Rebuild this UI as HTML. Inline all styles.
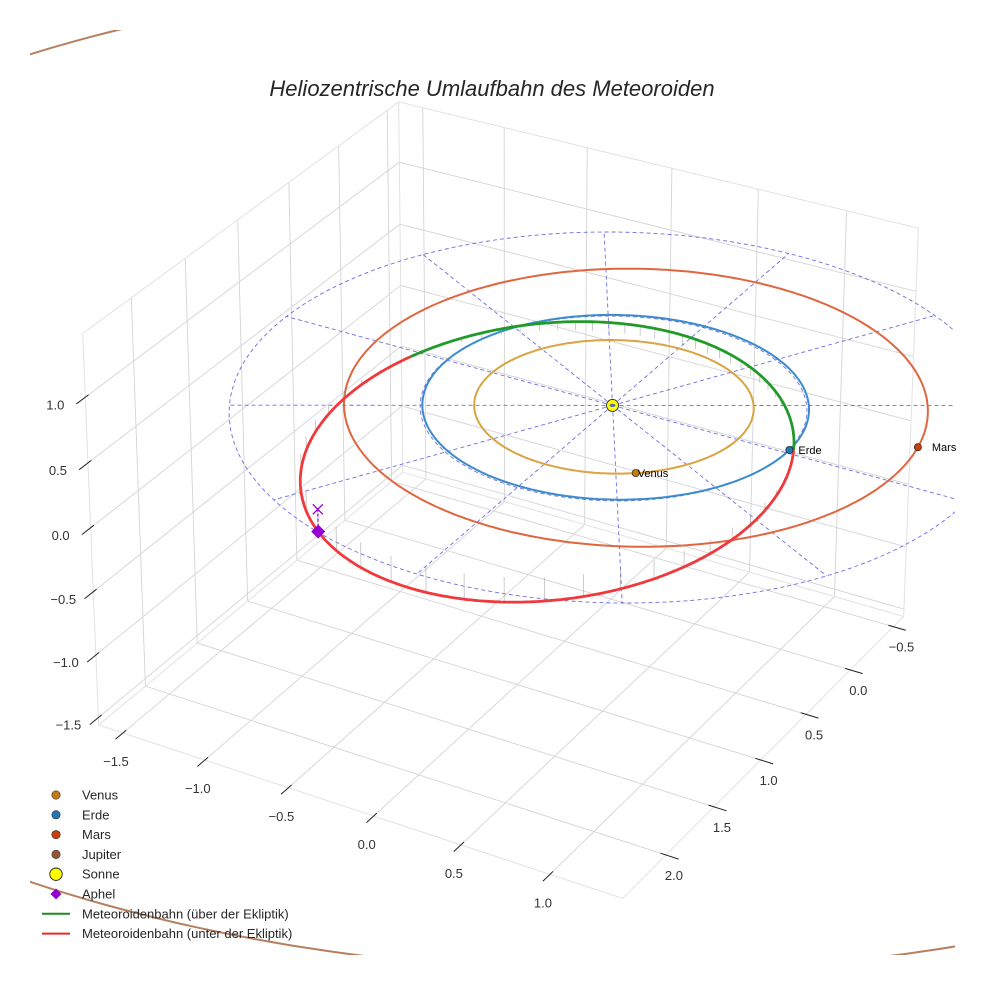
<!DOCTYPE html>
<html><head><meta charset="utf-8">
<style>
html,body{margin:0;padding:0;background:#fff;}
svg{display:block;font-family:"Liberation Sans",sans-serif;}
</style></head>
<body>
<svg id="chart" width="984" height="984" viewBox="0 0 984 984" xmlns="http://www.w3.org/2000/svg">
  <defs><clipPath id="axclip"><rect x="30" y="30" width="925" height="925"/></clipPath></defs>
  <rect x="0" y="0" width="984" height="984" fill="#fff"/>
  <g id="panes"></g>
  <g id="ticks"></g>
  <g id="data" clip-path="url(#axclip)"></g>
  <g id="labels"></g>
  <text x="492" y="96" text-anchor="middle" font-size="22" font-style="italic" fill="#262626">Heliozentrische Umlaufbahn des Meteoroiden</text>
  <g id="legend"></g>
</svg>
<script>
// ---- data ----
const xTicks = [-1.5, -1.0, -0.5, 0.0, 0.5, 1.0];
const yTicks = [-0.5, 0.0, 0.5, 1.0, 1.5, 2.0];
const zTicks = [-1.5, -1.0, -0.5, 0.0, 0.5, 1.0];
const planetNames = ["Venus", "Erde", "Mars", "Jupiter"];
const planetA = [0.723, 1.0, 1.51, 5.3];
const planetE = [0.0068, 0.0167, 0.08, 0.0489];
const planetPeri = [131, 103, 126, 14];
const planetAngle = [52, -2, -14, 200];
const planetVisible = [true, true, true, false];
const eclipticRadii = [1.0, 2.0];
const eclipticSpokes = [0, 30, 60, 90, 120, 150, 180, 210, 240, 270, 300, 330];
const meteorA = [1.345];
const meteorE = [0.43];
const meteorPeri = [277];
const meteorInc = [6];
const meteorNode = [177];
const aphelAngle = [114];
const legendLabels = ["Venus","Erde","Mars","Jupiter","Sonne","Aphel","Meteoroidenbahn (über der Ekliptik)","Meteoroidenbahn (unter der Ekliptik)"];

// ---- box / camera calibration ----
const XMIN=-1.65, XMAX=1.40, YMIN=-0.62, YMAX=2.44, ZMIN=-1.56, ZMAX=1.48;
const calib = [
 [XMIN,YMAX,ZMIN,99,726],[XMAX,YMAX,ZMIN,625,895],[XMAX,YMIN,ZMIN,904,612],
 [XMIN,YMAX,ZMAX,83,333],[XMAX,YMIN,ZMAX,922,230],[XMIN,YMIN,ZMAX,403,102],
 [0,0,0,608,406],[-1.5,YMAX,ZMIN,124,734],[1.0,YMAX,ZMIN,556,875],
 [XMAX,-0.5,ZMIN,893,628],[XMAX,2.0,ZMIN,665,859],[XMIN,YMAX,1.0,86,395],[XMIN,YMAX,0,91,527],
 [-1.732,1.0,0,225,406],[1.0,1.732,0,613,603]
];
function solveDLT(pts){
  const A=[],b=[];
  pts.forEach(([X,Y,Z,u,v])=>{
    A.push([X,Y,Z,1,0,0,0,0,-u*X,-u*Y,-u*Z]);b.push(u);
    A.push([0,0,0,0,X,Y,Z,1,-v*X,-v*Y,-v*Z]);b.push(v);
  });
  const n=11,N=[];
  for(let i=0;i<n;i++){N.push(new Array(n+1).fill(0));}
  for(let r=0;r<A.length;r++){for(let i=0;i<n;i++){for(let j=0;j<n;j++)N[i][j]+=A[r][i]*A[r][j];N[i][n]+=A[r][i]*b[r];}}
  for(let c=0;c<n;c++){
    let p=c;for(let r=c+1;r<n;r++)if(Math.abs(N[r][c])>Math.abs(N[p][c]))p=r;
    [N[c],N[p]]=[N[p],N[c]];
    for(let r=0;r<n;r++){if(r===c)continue;const f=N[r][c]/N[c][c];for(let k=c;k<=n;k++)N[r][k]-=f*N[c][k];}
  }
  return N.map((row,i)=>row[n]/row[i]);
}
const P=solveDLT(calib);
function proj(x,y,z){
  const w=P[8]*x+P[9]*y+P[10]*z+1;
  return [(P[0]*x+P[1]*y+P[2]*z+P[3])/w,(P[4]*x+P[5]*y+P[6]*z+P[7])/w,w];
}
const NS="http://www.w3.org/2000/svg";
function mk(tag,attrs,parent){const e=document.createElementNS(NS,tag);for(const k in attrs)e.setAttribute(k,attrs[k]);parent.appendChild(e);return e;}
function pathD(pts){let d="";pts.forEach((p,i)=>{const q=proj(p[0],p[1],p[2]);if(q[2]<=0.05)return;d+=(d===""?"M":"L")+q[0].toFixed(1)+","+q[1].toFixed(1);});return d;}
function line3(g,a,b,attrs){const p=proj(...a),q=proj(...b);return mk("line",Object.assign({x1:p[0],y1:p[1],x2:q[0],y2:q[1]},attrs),g);}
const fmt=v=>(v<0?"\u2212":"")+Math.abs(v).toFixed(1);

// ---- panes & grid ----
const panes=document.getElementById("panes");
const GS={stroke:"#d4d4d4","stroke-width":0.9};
const ES={stroke:"#e2e2e2","stroke-width":1};
xTicks.forEach(t=>{
  const l=line3(panes,[t,YMIN,ZMIN],[t,YMAX,ZMIN],GS);
  const l2=line3(panes,[t,YMIN,ZMIN],[t,YMIN,ZMAX],GS);
});
yTicks.forEach(t=>{
  const l=line3(panes,[XMIN,t,ZMIN],[XMAX,t,ZMIN],GS);
  const l2=line3(panes,[XMIN,t,ZMIN],[XMIN,t,ZMAX],GS);
});
zTicks.forEach(t=>{
  const l=line3(panes,[XMIN,YMIN,t],[XMAX,YMIN,t],GS);
  const l2=line3(panes,[XMIN,YMIN,t],[XMIN,YMAX,t],GS);
});
[[[XMIN,YMIN,ZMIN],[XMAX,YMIN,ZMIN]],[[XMIN,YMIN,ZMIN],[XMIN,YMAX,ZMIN]],[[XMIN,YMIN,ZMIN],[XMIN,YMIN,ZMAX]],
 [[XMIN,YMAX,ZMIN],[XMIN,YMAX,ZMAX]],[[XMAX,YMIN,ZMIN],[XMAX,YMIN,ZMAX]],[[XMIN,YMIN,ZMAX],[XMAX,YMIN,ZMAX]],[[XMIN,YMIN,ZMAX],[XMIN,YMAX,ZMAX]],
 [[XMIN,YMAX,ZMIN],[XMAX,YMAX,ZMIN]],[[XMAX,YMIN,ZMIN],[XMAX,YMAX,ZMIN]]].forEach(([a,b])=>{
  const l=line3(panes,a,b,ES);
});

// ---- ticks & labels ----
const tg=document.getElementById("ticks");
const TS={stroke:"#222","stroke-width":1};
const LS={"font-size":13,fill:"#333","text-anchor":"middle"};
xTicks.forEach(t=>{
  const l=line3(tg,[t,YMAX-0.03,ZMIN],[t,YMAX+0.07,ZMIN],TS);
  const p=proj(t,YMAX,ZMIN);
  const tx=mk("text",Object.assign({x:p[0]-7,y:p[1]+33},LS),tg);tx.textContent=fmt(t);
  
});
yTicks.forEach(t=>{
  const l=line3(tg,[XMAX-0.03,t,ZMIN],[XMAX+0.07,t,ZMIN],TS);
  const p=proj(XMAX,t,ZMIN);
  const tx=mk("text",Object.assign({x:p[0]+8,y:p[1]+25},LS),tg);tx.textContent=fmt(t);
  
});
zTicks.forEach(t=>{
  const l=line3(tg,[XMIN,YMAX-0.03,t],[XMIN,YMAX+0.08,t],TS);
  const p=proj(XMIN,YMAX,t);
  const tx=mk("text",Object.assign({x:p[0]-30,y:p[1]+12},LS),tg);tx.textContent=fmt(t);
  
});

// ---- data ----
const dg=document.getElementById("data");
const rad=d=>d*Math.PI/180;
function orbitPoints(a,e,peri,inc,node,n){
  const pts=[];const p=a*(1-e*e);
  for(let i=0;i<=n;i++){const th=2*Math.PI*i/n;const r=p/(1+e*Math.cos(th-rad(peri)));
    pts.push([r*Math.cos(th),r*Math.sin(th),r*Math.sin(rad(inc))*Math.sin(th-rad(node))]);}
  return pts;
}
function orbitAt(a,e,peri,inc,node,angDeg){const th=rad(angDeg);const r=a*(1-e*e)/(1+e*Math.cos(th-rad(peri)));return [r*Math.cos(th),r*Math.sin(th),r*Math.sin(rad(inc))*Math.sin(th-rad(node))];}

// ecliptic reference
const DS={stroke:"#5555dd","stroke-width":0.9,fill:"none","stroke-dasharray":"4,3",opacity:0.85};
eclipticSpokes.forEach(a=>{
  const R=eclipticRadii[eclipticRadii.length-1];
  const l=line3(dg,[0,0,0],[R*Math.cos(rad(a)),R*Math.sin(rad(a)),0],DS);
  
});
eclipticRadii.forEach(R=>{
  const c=mk("path",Object.assign({d:pathD(orbitPoints(R,0,0,0,0,240))},DS),dg);
  
});

// planet orbits
const orbitColors=["#d9a441","#3a8ccd","#e0663f","#b5805f"];
const markerColors=["#c67a12","#1f77b4","#cc3e0c","#9a5530"];
planetNames.forEach((nm,i)=>{
  const o=mk("path",{d:pathD(orbitPoints(planetA[i],planetE[i],planetPeri[i],0,0,360)),fill:"none",stroke:orbitColors[i],"stroke-width":2},dg);
  
  
});

// meteoroid orbit
const mpts=orbitPoints(meteorA[0],meteorE[0],meteorPeri[0],meteorInc[0],meteorNode[0],720);
mpts.forEach((p,i)=>{
  if(i%12!==0)return;
  const s=line3(dg,p,[p[0],p[1],0],{stroke:"#999","stroke-width":0.7,opacity:0.7});
  
  
});
let segs=[],cur=[],curUp=null;
mpts.forEach(p=>{const up=p[2]>=0;if(curUp===null)curUp=up;
  if(up!==curUp){cur.push(p);segs.push([curUp,cur]);cur=[p];curUp=up;}else cur.push(p);});
segs.push([curUp,cur]);
segs.forEach(([up,pts])=>{
  const s=mk("path",{d:pathD(pts),fill:"none",stroke:up?"#229a2a":"#f0393c","stroke-width":2.8},dg);
  
  
});

// aphelion marker
const aph=orbitAt(meteorA[0],meteorE[0],meteorPeri[0],meteorInc[0],meteorNode[0],aphelAngle[0]);
const ap=proj(...aph),aq=proj(aph[0],aph[1],0);
const st=mk("line",{x1:ap[0],y1:ap[1],x2:aq[0],y2:aq[1],stroke:"#9400d3","stroke-width":1.2,"stroke-dasharray":"3,2"},dg);

const ax=mk("path",{d:`M${aq[0]-5},${aq[1]-5}L${aq[0]+5},${aq[1]+5}M${aq[0]-5},${aq[1]+5}L${aq[0]+5},${aq[1]-5}`,stroke:"#9400d3","stroke-width":1.3},dg);

const ad=mk("path",{d:`M${ap[0]},${ap[1]-7}L${ap[0]+7},${ap[1]}L${ap[0]},${ap[1]+7}L${ap[0]-7},${ap[1]}Z`,fill:"#9400d3"},dg);


// sun
const sp=proj(0,0,0);
const sun=mk("circle",{cx:sp[0],cy:sp[1],r:6,fill:"#ffff00",stroke:"#222","stroke-width":0.9},dg);

const sunc=mk("ellipse",{cx:sp[0],cy:sp[1],rx:3,ry:1.6,fill:"#5566cc"},dg);


// planets
const lblg=document.getElementById("labels");
const labelDx=[2,9,14,8];
planetNames.forEach((nm,i)=>{
  if(!planetVisible[i])return;
  const p=proj(...orbitAt(planetA[i],planetE[i],planetPeri[i],0,0,planetAngle[i]));
  const c=mk("circle",{cx:p[0],cy:p[1],r:3.6,fill:markerColors[i],stroke:"#222","stroke-width":0.7},dg);
  
  
  const t=mk("text",{x:p[0]+labelDx[i],y:p[1]+4,"font-size":11,fill:"#000"},lblg);t.textContent=nm;
  
  
});

// ---- legend ----
const lg=document.getElementById("legend");
legendLabels.forEach((lab,i)=>{
  const y=795+i*19.8;
  let m;
  if(i<4){m=mk("circle",{cx:56,cy:y,r:4.2,fill:markerColors[i],stroke:"#333","stroke-width":0.6},lg);}
  else if(i===4){m=mk("circle",{cx:56,cy:y,r:6.2,fill:"#ffff00",stroke:"#222","stroke-width":0.9},lg);}
  else if(i===5){m=mk("path",{d:`M56,${y-5.5}L61.5,${y}L56,${y+5.5}L50.5,${y}Z`,fill:"#9400d3"},lg);}
  else {m=mk("line",{x1:42,y1:y,x2:70,y2:y,stroke:i===6?"#1f8a1f":"#e82828","stroke-width":2},lg);}
  
  
  const t=mk("text",{x:82,y:y+4.5,"font-size":13,fill:"#262626"},lg);t.textContent=lab;
  
  
});
</script>
</body></html>
